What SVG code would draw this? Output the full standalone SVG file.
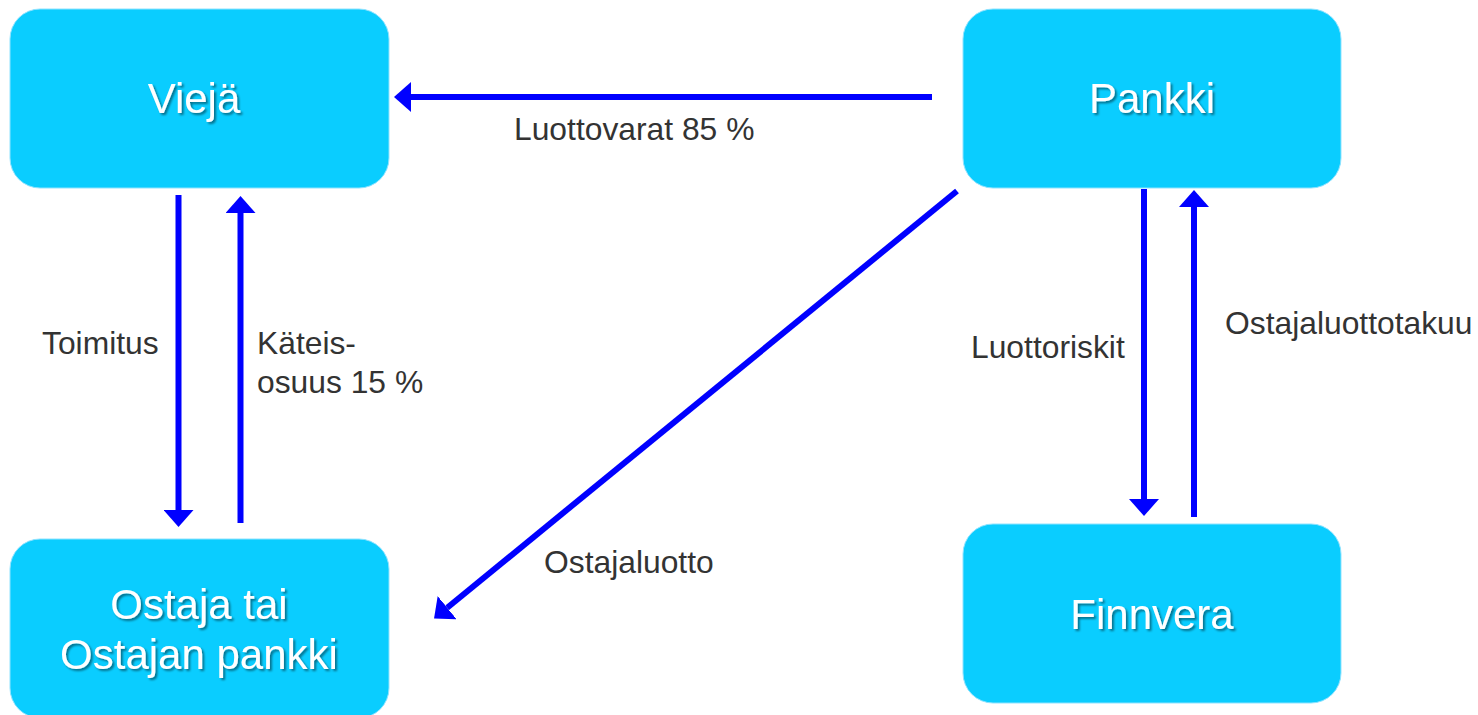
<svg xmlns="http://www.w3.org/2000/svg" width="1478" height="715" viewBox="0 0 1478 715">
  <style>
    .box { fill: #0ACDFF; stroke: #8FE3FF; stroke-width: 1; }
    .ntext { font-family: "Liberation Sans", Arial, sans-serif; font-size: 42px; fill: #FFFFFF; text-anchor: middle; filter: url(#shadow); }
    .label { font-family: "Liberation Sans", Arial, sans-serif; font-size: 31.8px; fill: #333333; }
    .conn { stroke: #0000FF; stroke-width: 6; fill: none; marker-end: url(#head); }
  </style>
  <defs>
    <marker id="head" viewBox="0 0 17 30" refX="0" refY="15" markerWidth="17" markerHeight="30" markerUnits="userSpaceOnUse" orient="auto">
      <path d="M0,0 L17,15 L0,30 Z" fill="#0000FF"/>
    </marker>
    <filter id="shadow" x="-10%" y="-20%" width="130%" height="150%">
      <feDropShadow dx="2" dy="2" stdDeviation="1" flood-color="#000000" flood-opacity="0.45"/>
    </filter>
  </defs>
  <rect width="1478" height="715" fill="#FFFFFF"/>

  <g id="connectors">
    <path class="conn" d="M932,97 L411,97"/>
    <path class="conn" d="M178.5,195 L178.5,510"/>
    <path class="conn" d="M240.5,523 L240.5,213"/>
    <path class="conn" d="M1144,189 L1144,499"/>
    <path class="conn" d="M1194,517 L1194,207"/>
    <path class="conn" d="M957,191 L447.2,607.7"/>
  </g>

  <g id="labels">
    <text class="label" x="514" y="140">Luottovarat 85 %</text>
    <text class="label" x="42" y="354">Toimitus</text>
    <text class="label" x="257" y="354">Käteis-</text>
    <text class="label" x="257" y="393">osuus 15 %</text>
    <text class="label" x="544" y="573">Ostajaluotto</text>
    <text class="label" x="971" y="358">Luottoriskit</text>
    <text class="label" x="1225" y="334">Ostajaluottotakuu</text>
  </g>

  <g id="node-vieja">
    <rect class="box" x="10" y="9" width="379" height="179" rx="30" ry="30"/>
    <text class="ntext" x="194" y="113">Viejä</text>
  </g>
  <g id="node-pankki">
    <rect class="box" x="963" y="9" width="378" height="179" rx="30" ry="30"/>
    <text class="ntext" x="1152" y="113">Pankki</text>
  </g>
  <g id="node-ostaja">
    <rect class="box" x="10" y="539" width="379" height="179" rx="30" ry="30"/>
    <text class="ntext" x="199" y="619">Ostaja tai</text>
    <text class="ntext" x="199" y="669">Ostajan pankki</text>
  </g>
  <g id="node-finnvera">
    <rect class="box" x="963" y="524" width="378" height="179" rx="30" ry="30"/>
    <text class="ntext" x="1152" y="629">Finnvera</text>
  </g>
</svg>
